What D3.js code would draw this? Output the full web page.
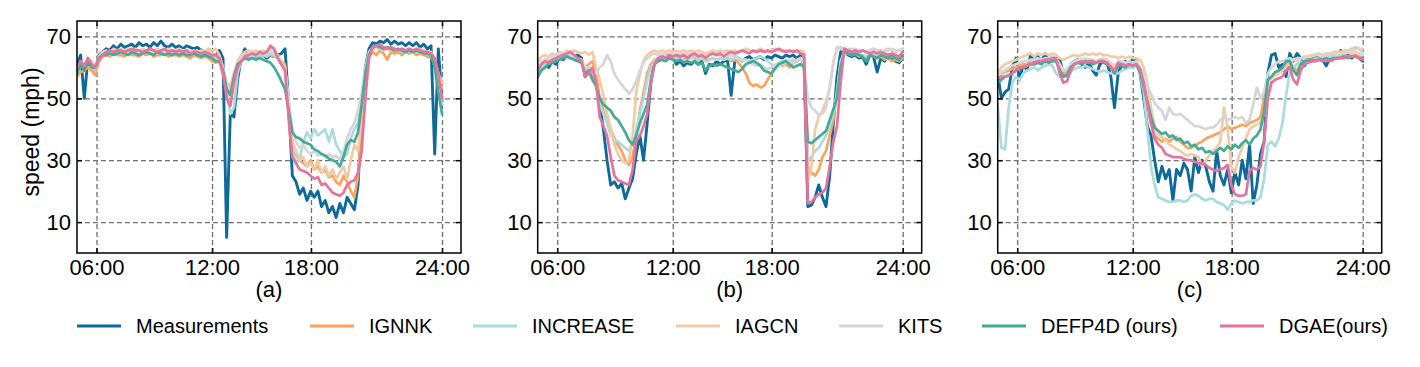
<!DOCTYPE html>
<html><head><meta charset="utf-8">
<script src="https://cdn.jsdelivr.net/npm/d3@7"></script>
<style>
body{margin:0;background:#fff}
text{font-family:"Liberation Sans",Arial,Helvetica,sans-serif;fill:#000}
</style>
</head><body>
<svg id="chart" width="1420" height="367"></svg>
<script>
// ---------- data (101 samples per series, index 0..100) ----------
const seriesNames = ["Measurements","IGNNK","INCREASE","IAGCN","KITS","DEFP4D (ours)","DGAE(ours)"];
const seriesColors = ["#0f6a99","#fba45e","#a9dcdc","#f1caa6","#d6d6da","#44ab98","#e6739e"];
const panelLabels = ["(a)","(b)","(c)"];
const yTickValues = [10,30,50,70];
const xTickIndex = [5.34,37,64.1,100];
const xTickLabels = ["06:00","12:00","18:00","24:00"];

// Panel (a)
const A_meas = [61,64,50,63,61,59,64,65,66,65.5, 67,66,67.5,66.5,67,67.5,66.5,68,67,67.5, 66.5,68,67,68.5,67,66.5,67.5,66.5,67,66, 67,66.5,66,66.5,65.5,65,65,64,64,65.5, 63,5,45,44,56,63,66,63,64.5,63, 65,64,63,64,63.5,64,64.5,66,48,25, 23,19,21,17,20,18,20,15,17,13, 15,11.5,16,13,18,16,14,22,45,60, 66,68,67.5,68.5,68,69,67.5,68.5,67.5,68, 67,68,67,68,66.5,67.5,66,67,32,66, 49];
const A_ignnk = [57,58.5,59,60,59,57.5,62,63.5,64,63.5, 64.5,64,64,63.5,64.5,64,64,63.5,64.5,64, 64.5,63.5,64,64,64.5,63.5,64,64,63.5,64, 63.5,63,64,63.5,63,63.5,63,62,61.5,62, 58,52,53,58,61,62.5,63,63.5,63,63.5, 63,64,63.5,64,63.5,63,62,61,45,35, 32,30,29,28,30,27,28,26,27,24.5, 25,23,22,25,23,20,18,25,42,58, 63.5,65,64,65.5,64.5,62.5,65,64.5,65,64, 65,64.5,65,64,64.5,64,63.5,63,62,58, 53];
const A_increase = [58,61,60,62,61,59,63,64,64.5,64, 65,64.5,65,64.5,65,65,64.5,65,64.5,65, 64.5,65,64.5,65,64.5,65,64.5,64.5,65,64.5, 64.5,64,64.5,64,64.5,64,64,63.5,63,63, 60,52,45,47,58,62,63.5,64,63.5,64, 63.5,64,63.5,64.5,64,63,61,59,48,35, 29,30,36,39,37,40,38,39,40,36, 40,35,33,31,32,37,40,42,50,58, 64,66,66.5,66,65.5,66,65.5,66,65.5,65, 65.5,65,65.5,65,65,64.5,64.5,64,61,55, 48];
const A_iagcn = [59,62,61,63,62,60,63.5,65,65.5,65, 66,65.5,66,65.5,66,65.5,66,65.5,66,65.5, 66,65.5,66,65.5,65.5,66,65.5,65.5,66,65.5, 65.5,65,65.5,65,65.5,65,66,65.5,66,64, 60,55,54,58,62,64,65,65.5,65,65.5, 65,65.5,65,66,65.5,64,62,60,48,36, 33,30,31,28,29,27,30,26,28,25, 27,24,26,28,24,30,35,33,45,58, 64,66,66.5,66,65.5,66,65.5,66,65.5,66, 65.5,66,65.5,65.5,66,65.5,65,65,62,58, 55];
const A_kits = [59,61.5,61,62.5,61.5,60,63,64.5,65,65, 65.5,65,65.5,65,65.5,65,65.5,65,65.5,65, 65.5,65,65.5,65,65,65.5,65,65,65.5,65, 65,64.5,65,64.5,65,64.5,65,64.5,64,63, 59,54,52,56,61,63,64,64.5,64.5,65, 64.5,65,64.5,65.5,65,63.5,61.5,59,50,40, 36,34,35,33,32,33,31.5,32,31,32, 31,31.5,30,33,37,40,42,46,52,60, 65,66.5,67,66.5,66,66.5,66,66,65.5,66, 65.5,66,65.5,65.5,65,65.5,65,64.5,61,55, 50];
const A_defp4d = [58,61,59,62,60,60,63,64,64,64.5, 64,64.5,65,64.5,64,65,64.5,64,64.5,65, 64.5,64,65,64.5,64,64.5,64,64.5,64,64.5, 64,64,64.5,64,63.5,64,63.5,63,62,62, 59,53,51,57,61,62,63,62.5,63,62.5, 63,62.5,62,61.5,60,58,55.5,53,46,39, 37.5,37,36,35.5,35,33.5,33,32,31.5,30.5, 30,29.5,28,31,35,36.5,36,39,48,58, 64,66.5,67,66.5,66,66.5,66,65.5,66,65.5, 65,65.5,65,65.5,65,64.5,64.5,64,60,52, 45];
const A_dgae = [60,62,60.5,63,61,60,62.5,64,65,65.5, 65,65.5,65.5,65,65.5,66,65.5,65.5,65,65.5, 66,65.5,65,65.5,66,65,65.5,65,65.5,65, 65.5,64.5,65,65,64.5,65,64.5,64,64,63, 58,50,47.5,55,60,62,63.5,64,64.5,64, 65,64.5,65,67,66,63,61,59,43,31, 29,27,26.5,26,25,24,24.5,22,22.5,21, 19.5,19,18.5,19.5,22,23,23.5,26,33,50, 63,66.5,67,67.5,66.5,66,66.5,66,65.5,66, 65.5,66,65.5,66,65.5,65,65,64.5,63,58, 50];

// Panel (b)
const B_meas = [57,60,61,60,62,61,63,62.5,64,63, 63.5,64,63,57,59,57,55,48,40,30, 22,23,21,22.5,17.5,21,24,32,38,30, 42,55,62,62.5,63,64,63,63.5,61,62, 60.5,61.5,61,62,61,62,58,61,60.5,62, 61,62,62.5,51,62,63,62,63,63.5,62.5, 63,63.5,62.5,63.5,63,64,63.5,63,64,63.5, 64,63,64,60,15,15.5,18,22,18,15, 25,42,57,65,66,64,63.5,64,63,63.5, 61,64,63.5,58.5,63,62,64,63,62,61.5, 63];
const B_ignnk = [59,61,61.5,62,62.5,63,63.5,64,63.5,64, 63,62.5,62,60,61,62,58,50,46,43, 40,37,35,33,30,28.5,31,38,46,52, 58,61,62.5,63,63.5,63,63.5,63,63.5,63, 62.5,63,63.5,63,62.5,63,62,62.5,63,62.5, 63,62.5,63,62,62.5,61.5,60,58,55,54, 54.5,53.5,54,56,58,60,61,60.5,61,60, 61.5,62,63,62.5,28,26,25,27,31,33, 38,43,52,62,65,64.5,64,64.5,63.5,64, 63,64,63.5,63,63.5,62.5,63,62,62.5,62, 63];
const B_increase = [58,60,61,61.5,62,62.5,63,63.5,63,63.5, 63,62.5,62,59,60,58,54,48,45,42, 38,36.5,36,35,34,33,36,40,45,50, 56,60,62,63,63,63.5,63,63.5,63,62.5, 63,62.5,63,63.5,62.5,63,62,62.5,63,62.5, 63,62.5,63,62.5,63,62.5,62,62.5,62,62.5, 63,63.5,63,62,61,60.5,61.5,62,62.5,62, 62.5,62,63,62,30,31,33,34,36,38, 41,45,52,62,65,64.5,64,64.5,64,64, 63.5,64,64,63.5,64,63.5,64,63.5,63,63, 64];
const B_iagcn = [62,63.5,64,63.5,64.5,64,65,64.5,65.5,65, 65.5,65,64.5,65,64,65,60,56,51,45, 40,35,32,30,29,30,38,52,58,62, 64,65,65.5,65,65.5,65,65.5,65,65.5,65, 65.5,65,65.5,65,65.5,65,64.5,65,65.5,65, 65.5,65,65.5,65,65.5,65,65.5,66,65.5,65, 65.5,66,65.5,65,65.5,66,65.5,65,65.5,65, 65.5,65,65.5,65,23,28,40,44,46,49, 53,62,66,66.5,66,65.5,66,65.5,65,65.5, 65,65.5,66,65.5,65,65.5,66,65.5,65,65.5, 66];
const B_kits = [60,62,62.5,63,63.5,64,64.5,65,64.5,64, 63.5,63,62.5,60,60,59,58,60,61,64, 62,58,56,54.5,53,51.5,53,55.5,59,61.5, 63,64,64.5,64,64.5,64,64.5,64,64.5,64, 64.5,64,64.5,64,64.5,64,63.5,64,64.5,64, 64,63.5,64,63.5,64,63,62.5,62.5,62,61, 60.5,61,60,59.5,60,61,60.5,61,61.5,62, 61.5,62.5,63,61,50,47,46,44.5,45,47, 54,61,66.5,66,65.5,66,65.5,66,65.5,65.5, 65,65.5,66,65.5,65.5,65,65.5,66,65.5,65.5, 66];
const B_defp4d = [57,59,60,61,61.5,62,62.5,63,63.5,63, 62.5,62,61.5,58,59,56,54,50,48,47, 46,44,43,41,39,36.5,35,38,42,45, 48,56,61,62,62.5,62,63,62.5,62,62.5, 61.5,62,61.5,62,61,61.5,59,60.5,61,60.5, 61,60.5,60,59.5,59,58.5,59.5,61,61.5,62, 61.5,60.5,59,58.5,58,59.5,61,61.5,62,61, 60,60.5,61,60,36,35.5,36.5,37.5,38.5,39.5, 43,46.5,50,60,65,64.5,64,64.5,64,63.5, 62,64,63.5,63,64,63.5,63,64,63,62.5, 64];
const B_dgae = [59,61,62,61.5,62.5,63,63.5,64,64.5,65, 64,63,62,57,58,60,55,44,41,38, 31,25,23.5,23,22.5,22,27,36,38,41, 45,55,61,63,63.5,63,64,63.5,64,63.5, 64,63,64,64.5,63.5,64,63,64,64.5,64, 64.5,63.5,64.5,65,64.5,65,65.5,65,64.5,65.5, 65,65.5,65,65.5,65,65.5,66,65.5,65,65.5, 65,65.5,64.5,64,16,16.5,18,19,19.5,21, 28,36,41,55,66,65.5,65,65.5,65,65.5, 65,64.5,65,64.5,65,64.5,64,64.5,64,63.5, 65];

// Panel (c)
const C_meas = [58,50,52,53,60,63,56,61,59,64, 62,63.5,62,64.5,62,63,62,62.5,58,57, 61,62,62.5,61,60,61.5,59,57.5,61,62, 61.5,57,47,58,61,62,60,63,62,58, 50,41,38,30,23,28,24,27,17,27, 25,29,27,20,31,26,30,28,23,20, 33,25,22,27,19.5,26,22,30,24,35, 16,22,32,36,58,64,64.5,60,61,57, 64.5,62,64.5,63,60.5,63,62,64,63,62.5, 60.5,63,64,63,65.5,64,64,63,64,63, 62];
const C_ignnk = [57,58,58.5,59,59.5,60,60.5,61,61,61.5, 61.5,62,61.5,62.5,62,62.5,62.5,60,58,58.5, 60.5,61.5,62,61.5,62.5,62,61.5,62,62.5,62, 61.5,60.5,59,61,61,60.5,61.5,61,61.5,59, 55,49,42,38,37,36,37,36,37,37.5, 36,35,34,34,34.5,35.5,36,37,37.5,38, 38.5,39,40,41,40,40.5,41,41.5,41,42, 42.5,43,44,50,56,57,57.5,58.5,59,60.5, 62,60,59,61,62,62.5,62.5,63,63,63, 63.5,63,63.5,63.5,63.5,64,63.5,64,64,63.5, 63];
const C_increase = [48,34,33.5,47,55,57,56,58,59,59.5, 60,59,60,60.5,61,60.5,58,57,57.5,57, 58.5,59.5,60,60,60.5,60,59.5,59,58.5,59, 58.5,58,58.5,58,59,59.5,60,60,60.5,58, 52,40,28,22,18,17.5,17,16.5,16.5,17, 17,16.5,17,18.5,19,18.5,17.5,17,17.5,17.5, 16.5,16,15.5,14,16,17,16.5,16,16.5,16.5, 17,17,18,24,35,36,34.5,37,42,51, 58,60,61,62,61.5,62,62,62.5,62.5,62, 63,63.5,63.5,64,64.5,65,65.5,66,66.5,66, 65];
const C_iagcn = [58,60,61,61.5,62,62.5,63,63.5,64,64.5, 63.5,64.5,64,64.5,64,64.5,64,63,62.5,63, 63.5,64,63.5,64,64.5,64,64.5,64,64.5,64, 64,63.5,63.5,63,63.5,63,63.5,63,63,62.5, 60,55,47,41,38.5,37.5,36.5,35,34.5,33.5, 33,32,31.5,32,31.5,31,28,30,31.5,33, 34,36,47,40,28,26,31,34,37,40, 41,41.5,42,45,54,56.5,57.5,58,59,60, 61.5,62.5,63,63,63.5,63.5,64,64,64.5,64, 64.5,64.5,65,65,65,65.5,65.5,65.5,66,66, 66];
const C_kits = [57,58.5,59,60,60.5,61,61.5,62,62,62.5, 62.5,63,62.5,63,63,63.5,63,61,59,59.5, 61,62,62.5,62.5,63,62.5,62.5,62,62.5,63, 62.5,61.5,60.5,62,62,61.5,62,61.5,62,60, 58,54,51.5,48.5,47,46,43,47,45,44.5, 45,44,43,42,41,41,40.5,40,40.5,40.5, 41.5,43,44,43,43.5,44,43.5,44,42,43, 48,53.5,50,52,58,60,61,62,62,62.5, 63,62.5,62,63,63,63.5,63.5,64,64,63.5, 64,64,64.5,64,64.5,64.5,65,64.5,65,64.5, 64];
const C_defp4d = [55,56,57,57.5,58,59,59.5,60,60.5,61, 61,61.5,61,62,61.5,62,62,59,57,57.5, 60,61,61.5,61,62,61.5,61,61.5,62,61.5, 61,60,58,60.5,60.5,60,61,60.5,61,58.5, 54,49,44,40.5,39.5,38.5,39,37.5,38,36.5, 37,35.5,36,34.5,35,33.5,34,32.5,33,32, 33,34,33,34.5,33.5,35,34,35.5,36.5,35, 37,38,40,46,56,57,58.5,59,60,62, 62,59,57.5,61,62,62,62.5,62,62.5,62.5, 63,62.5,63,63,63,63.5,63,63.5,63.5,63, 63];
const C_dgae = [56.5,57,57,57.5,58,59,60,60,60.5,61, 61.5,62,62,62.5,62.5,63,63,58,55,55.5, 59,61,61.5,62,61.5,62,62,61.5,62,62, 61.5,60,59,61.5,61,60.5,61,60.5,61,59.5, 55,48,42,37,35,34,32,31.5,31,31, 31,30.5,30,30,29.5,29,29,28.5,27.5,27, 26.5,27,27.5,28.5,22,19,18.5,18.5,19,26.5, 27.5,27,28,36,50,55,56,56.5,57,59, 60,56,54.5,59,61,61.5,62,62,62.5,62, 62.5,62,62.5,63,63,63,63.5,63.5,63.5,63, 62.5];

const panelData = [
  [A_meas, A_ignnk, A_increase, A_iagcn, A_kits, A_defp4d, A_dgae],
  [B_meas, B_ignnk, B_increase, B_iagcn, B_kits, B_defp4d, B_dgae],
  [C_meas, C_ignnk, C_increase, C_iagcn, C_kits, C_defp4d, C_dgae]
];

// ---------- layout ----------
const svg = d3.select("#chart");
const W = 384, H = 232, TOP = 21;
const panelLeft = [77, 537.7, 997.7];
const stepPx = 3.65;
const x = d3.scaleLinear().domain([0, W / stepPx]).range([0, W]);
const y = d3.scaleLinear().domain([0, 75]).range([H, 0]);
const line = d3.line().x((d, i) => x(i)).y(d => y(d));

svg.append("defs").append("clipPath").attr("id", "clip")
  .append("rect").attr("width", W).attr("height", H);

panelData.forEach((series, p) => {
  const g = svg.append("g").attr("transform", `translate(${panelLeft[p]},${TOP})`);

  // grid
  const gy = g.append("g").call(d3.axisLeft(y).tickValues(yTickValues).tickSize(-W).tickFormat(""));
  const gx = g.append("g").attr("transform", `translate(0,${H})`)
    .call(d3.axisBottom(x).tickValues(xTickIndex).tickSize(-H).tickFormat(""));
  [gy, gx].forEach(a => {
    a.select(".domain").remove();
    a.selectAll("line").attr("stroke", "#707070").attr("stroke-width", 1.3).attr("stroke-dasharray", "5,3");
  });

  // lines
  const lg = g.append("g").attr("clip-path", "url(#clip)");
  series.forEach((vals, s) => {
    lg.append("path").datum(vals)
      .attr("d", line)
      .attr("fill", "none")
      .attr("stroke", seriesColors[s])
      .attr("stroke-width", s === 0 ? 2.9 : 2.7)
      .attr("stroke-linejoin", "round")
      .attr("stroke-linecap", "round");
  });

  // axes with inward ticks
  const ax = [
    g.append("g").call(d3.axisLeft(y).tickValues(yTickValues).tickSize(-5).tickPadding(6).tickFormat(d3.format("d"))),
    g.append("g").attr("transform", `translate(${W},0)`).call(d3.axisRight(y).tickValues(yTickValues).tickSize(-5).tickFormat("")),
    g.append("g").attr("transform", `translate(0,${H})`).call(d3.axisBottom(x).tickValues(xTickIndex).tickSize(-5).tickPadding(6.5).tickFormat((d, i) => xTickLabels[i])),
    g.append("g").call(d3.axisTop(x).tickValues(xTickIndex).tickSize(-5).tickFormat(""))
  ];
  ax.forEach(a => {
    a.select(".domain").remove();
    a.selectAll("line").attr("stroke", "#000").attr("stroke-width", 1.5);
    a.selectAll("text").attr("font-size", 22).attr("font-family", '"Liberation Sans", Arial, sans-serif').attr("fill", "#000");
  });

  // frame
  g.append("rect").attr("width", W).attr("height", H)
    .attr("fill", "none").attr("stroke", "#000").attr("stroke-width", 1.5);

  // panel label
  g.append("text").attr("x", W / 2).attr("y", 276)
    .attr("text-anchor", "middle").attr("font-size", 22).text(panelLabels[p]);

  if (p === 0) {
    g.append("text")
      .attr("transform", `translate(${-38},${H / 2 - 5}) rotate(-90)`)
      .attr("text-anchor", "middle").attr("font-size", 23).text("speed (mph)");
  }
});

// legend
const legendX = [77, 310, 473, 676, 839, 982, 1220];
const lgd = svg.append("g");
seriesNames.forEach((n, i) => {
  lgd.append("line").attr("x1", legendX[i]).attr("x2", legendX[i] + 44)
    .attr("y1", 326).attr("y2", 326)
    .attr("stroke", seriesColors[i]).attr("stroke-width", 2.8);
  lgd.append("text").attr("x", legendX[i] + 59).attr("y", 333)
    .attr("font-size", 20).text(n);
});
</script>
</body></html>
